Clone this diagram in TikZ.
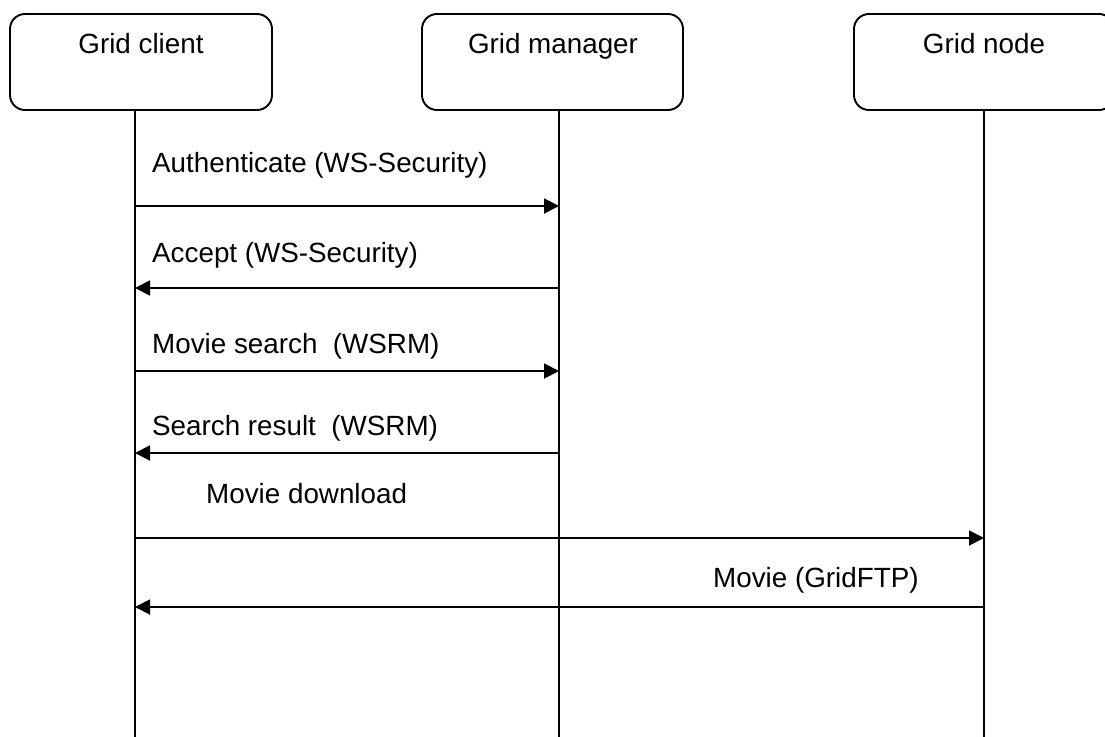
\documentclass[tikz,border=0pt]{standalone}
\usepackage{fontspec}
\setmainfont{Liberation Sans}
\usetikzlibrary{arrows.meta}
\begin{document}
\begin{tikzpicture}[x=1pt,y=-1pt,
  actor/.style={draw, line width=1.9pt, rounded corners=15pt, inner sep=0pt},
  lifeline/.style={line width=1.9pt},
  msg/.style={line width=1.9pt, -{Triangle[length=15pt,width=15pt]}},
  msgtext/.style={anchor=base west, inner sep=0pt, font=\fontsize{27.8}{33}\selectfont},
  actortext/.style={anchor=base, inner sep=0pt, font=\fontsize{27.8}{33}\selectfont}]
\useasboundingbox (0,0) rectangle (1105,736);

% participants
\node[actor, minimum width=262pt, minimum height=96pt] (client)  at (141,62) {};
\node[actor, minimum width=261pt, minimum height=96pt] (manager) at (552.5,62) {};
\node[actor, minimum width=260pt, minimum height=96pt] (gnode)   at (984,62) {};
\node[actortext] (tclient)  at (141,53)   {Grid client};
\node[actortext] (tmanager) at (553,53)   {Grid manager};
\node[actortext] (tgnode)   at (984,53)   {Grid node};

% lifelines
\coordinate (cTop) at (135,110);  \coordinate (cBot) at (135,740);
\coordinate (mTop) at (559,110);  \coordinate (mBot) at (559,740);
\coordinate (nTop) at (984,110);  \coordinate (nBot) at (984,740);
\draw[lifeline] (cTop) -- (cBot);
\draw[lifeline] (mTop) -- (mBot);
\draw[lifeline] (nTop) -- (nBot);

% message anchor points on the lifelines
\foreach \n/\y in {1/206, 2/288, 3/371, 4/453, 5/538, 6/607} {
  \coordinate (c\n) at (135,\y);
  \coordinate (m\n) at (559,\y);
  \coordinate (n\n) at (984,\y);
}

% messages
\draw[msg] (c1) -- (m1);
\node[msgtext] (l1) at (152,172) {Authenticate (WS-Security)};
\draw[msg] (m2) -- (c2);
\node[msgtext] (l2) at (152,262) {Accept (WS-Security)};
\draw[msg] (c3) -- (m3);
\node[msgtext] (l3) at (152,353) {Movie search\ \ (WSRM)};
\draw[msg] (m4) -- (c4);
\node[msgtext] (l4) at (152,435) {Search result\ \ (WSRM)};
\draw[msg] (c5) -- (n5);
\node[msgtext] (l5) at (206,503) {Movie download};
\draw[msg] (n6) -- (c6);
\node[msgtext] (l6) at (713,587) {Movie (GridFTP)};
\end{tikzpicture}
\end{document}
